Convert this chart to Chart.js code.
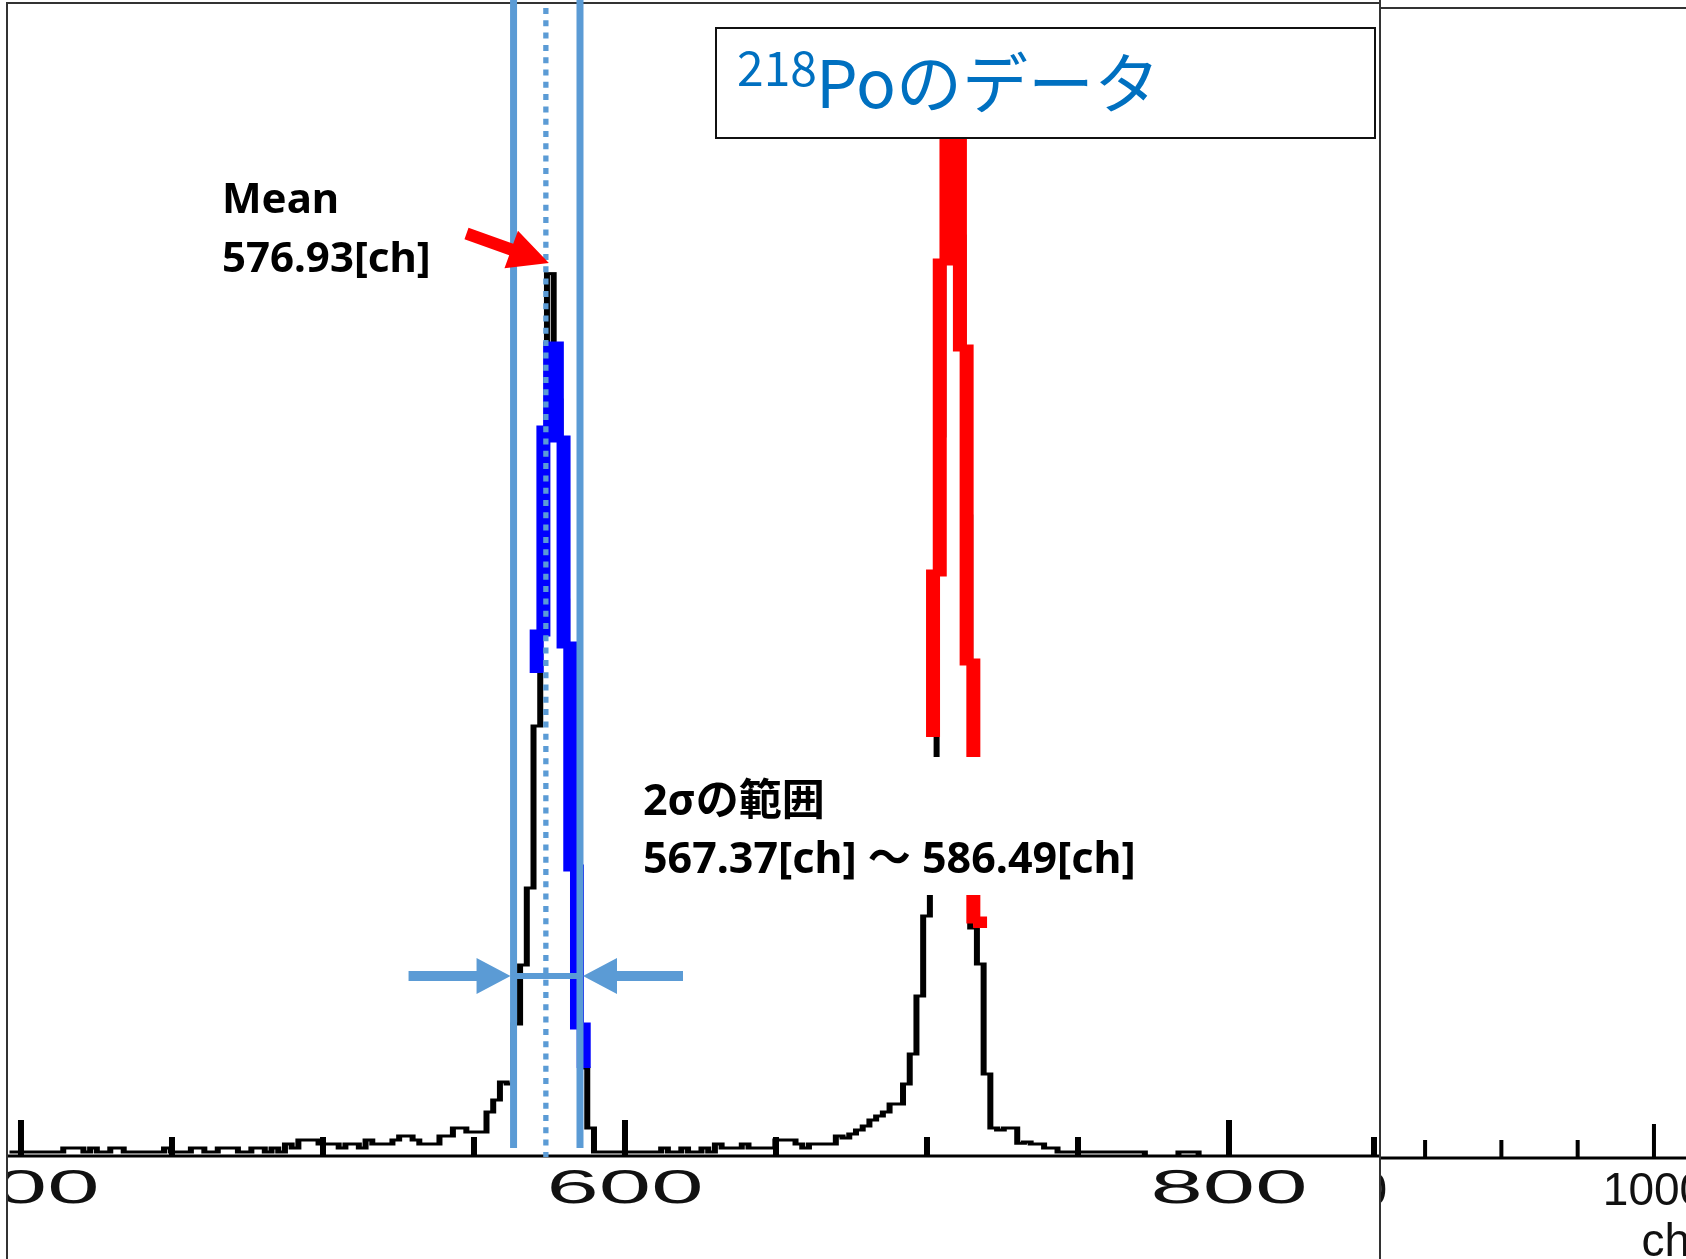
<!DOCTYPE html>
<html>
<head>
<meta charset="utf-8">
<script src="https://cdn.jsdelivr.net/npm/chart.js"></script>
<style>
  html, body { margin: 0; padding: 0; background: #fff; }
  #page { position: relative; width: 1686px; height: 1259px; overflow: hidden; background: #fff; }
  /* the ROOT picture was pasted stretched 2x horizontally, so the pad is drawn half width and scaled */
  #histWrap { position: absolute; left: 8px; top: 0; width: 686px; height: 1259px; transform: scaleX(2); transform-origin: 0 0; }
  #padWrap { position: absolute; left: 1381px; top: 0; width: 305px; height: 1259px; }
  #overlay { position: absolute; left: 0; top: 0; pointer-events: none; }
</style>
</head>
<body>
<div id="page">
  <div id="histWrap"><canvas id="hist" width="686" height="1259"></canvas></div>
  <div id="padWrap"><canvas id="pad2" width="305" height="1259"></canvas></div>
  <canvas id="overlay" width="1686" height="1259"></canvas>
</div>
<script>
// ---- axis range (channels) ----
const xMin = 395.7, xMax = 850;
const yMax = 288.25;

// ---- black histogram: all events ----
const binStart = 396.2;
const binWidth = 2.2245;
const counts = [
  1, 1, 1, 1, 1, 1, 1, 1, 2, 2,
  2, 1, 2, 1, 1, 2, 2, 1, 1, 1,
  1, 1, 1, 2, 1, 1, 1, 2, 2, 1,
  1, 2, 2, 2, 1, 1, 2, 2, 1, 2,
  1, 3, 2, 4, 4, 4, 3, 3, 3, 2,
  3, 3, 2, 4, 3, 3, 3, 4, 5, 5,
  4, 3, 3, 3, 5, 5, 7, 7, 6, 6,
  6, 11, 14, 18.5, 18, 33, 47.75, 67, 107.5, 150,
  220.6, 189, 139, 89, 49, 22, 7, 1, 1, 1,
  1, 1, 1, 1, 1, 1, 1, 2, 1, 1,
  2, 1, 1, 2, 1, 3, 2, 2, 2, 3,
  2, 2, 2, 2, 4, 4, 4, 3, 2, 3,
  3, 3, 3, 5, 4.5, 5.5, 6.5, 7.5, 9, 10,
  11, 13, 13, 18, 25.5, 40, 60, 85, 180, 270,
  265, 230, 160, 57, 48, 20.5, 7, 6.5, 7, 7,
  3.2, 3.5, 3, 3, 2, 2, 1, 1, 1, 1,
  1, 1, 1, 1, 1, 1, 1, 1, 1, 0,
  0, 0, 0, 0, 1, 1, 1, 0, 0, 0,
  0, 0, 0, 0, 0, 0, 0, 0, 0, 0,
  0, 0, 0, 0, 0, 0, 0, 0, 0, 0,
  0, 0, 0, 0
];

// ---- highlighted outlines (first / last value = neighbouring bins) ----
const blueStart = 570.76;
const blueCounts = [120.75, 130.75, 181.75, 202.75, 179.25, 127.75, 72, 32.5, 22];
const redStart = 702.0;
const redCounts = [104.75, 145.75, 223.5, 268, 262, 202, 123.5, 59, 57];

// ---- ticks ----
const majorTicks = [400, 600, 800];
const tickLabels = ['400', '600', '800'];
const mediumTicks = [450, 500, 550, 650, 700, 750, 850];

// ---- annotation values ----
const meanValue = 576.93;
const sigmaRange = [567.37, 586.49];
const meanLine = 573.8;            // where the dotted line sits in the picture
const sigmaLines = [563.1, 585.1]; // where the solid lines sit in the picture

// ---- right pad axis ----
const pad2Min = 821.1, pad2Max = 1021;
const pad2Major = [800, 1000];
const pad2Labels = ['800', '1000'];
const pad2Minor = [850, 900, 950];

const histPoints = counts.map((c, i) => ({ x: binStart + i * binWidth, y: c }));
histPoints.push({ x: binStart + counts.length * binWidth, y: counts[counts.length - 1] });

function outline(start, vals) {
  const pts = [{ x: start, y: vals[0] }];
  for (let j = 1; j < vals.length; j++) pts.push({ x: start + (j - 1) * binWidth, y: vals[j] });
  return pts;
}

// ROOT style axis: ticks pointing up into the frame
const axisPlugin = {
  id: 'rootAxis',
  afterDraw(chart) {
    const ctx = chart.ctx, xs = chart.scales.x, a = chart.chartArea;
    ctx.save();
    ctx.strokeStyle = '#000';
    ctx.lineWidth = 3;
    ctx.beginPath();
    ctx.moveTo(a.left, a.bottom);
    ctx.lineTo(a.right, a.bottom);
    const tick = (v, len) => {
      const x = Math.min(xs.getPixelForValue(v), a.right - 3);
      ctx.moveTo(x, a.bottom);
      ctx.lineTo(x, a.bottom - len);
    };
    majorTicks.forEach(v => tick(v, 36));
    mediumTicks.forEach(v => tick(v, 19));
    ctx.stroke();
    ctx.fillStyle = '#111';
    ctx.font = '47px "Liberation Sans", Arial, sans-serif';
    ctx.textAlign = 'center';
    ctx.textBaseline = 'alphabetic';
    majorTicks.forEach((v, i) => ctx.fillText(tickLabels[i], xs.getPixelForValue(v), 1203));
    ctx.restore();
  }
};

function arrow(ctx, x0, y0, x1, y1, shaft, headLen, headW) {
  const L = Math.hypot(x1 - x0, y1 - y0);
  const ux = (x1 - x0) / L, uy = (y1 - y0) / L, nx = -uy, ny = ux;
  const bx = x1 - ux * headLen, by = y1 - uy * headLen;
  ctx.beginPath();
  ctx.moveTo(x0 + nx * shaft / 2, y0 + ny * shaft / 2);
  ctx.lineTo(bx + nx * shaft / 2, by + ny * shaft / 2);
  ctx.lineTo(bx + nx * headW / 2, by + ny * headW / 2);
  ctx.lineTo(x1, y1);
  ctx.lineTo(bx - nx * headW / 2, by - ny * headW / 2);
  ctx.lineTo(bx - nx * shaft / 2, by - ny * shaft / 2);
  ctx.lineTo(x0 - nx * shaft / 2, y0 - ny * shaft / 2);
  ctx.closePath();
  ctx.fill();
}

// slide annotations drawn on top, positions taken from the histogram scale
const overlayPlugin = {
  id: 'slideOverlay',
  afterDraw(chart) {
    const cv = document.getElementById('overlay');
    const ctx = cv.getContext('2d');
    ctx.clearRect(0, 0, cv.width, cv.height);
    const xs = chart.scales.x;
    const toPage = v => 8 + 2 * xs.getPixelForValue(v);
    const seg = (x0, y0, x1, y1) => { ctx.beginPath(); ctx.moveTo(x0, y0); ctx.lineTo(x1, y1); ctx.stroke(); };

    // picture borders
    ctx.strokeStyle = '#333';
    ctx.lineWidth = 2;
    seg(7, 3, 7, 1259);
    seg(6, 3, 1380, 3);
    seg(1380, 0, 1380, 1259);
    seg(1380, 8, 1686, 8);

    // 2 sigma lines and mean
    const xl = toPage(sigmaLines[0]), xr = toPage(sigmaLines[1]), xm = toPage(meanLine);
    ctx.strokeStyle = '#5b9bd5';
    ctx.lineWidth = 7;
    seg(xl, 0, xl, 1148);
    seg(xr, 0, xr, 1148);
    ctx.lineWidth = 5.3;
    ctx.setLineDash([6, 6.3]);
    seg(xm, 8, xm, 1157);
    ctx.setLineDash([]);

    // width arrows
    ctx.fillStyle = '#5b9bd5';
    arrow(ctx, xl - 105, 976, xl - 3, 976, 10, 34, 36);
    arrow(ctx, xr + 103, 976, xr + 3, 976, 10, 34, 36);
    ctx.lineWidth = 6;
    seg(xl, 976, xr, 976);

    // red arrow to the peak
    ctx.fillStyle = '#ff0000';
    arrow(ctx, 466.5, 233.5, xm + 3, 263, 12, 40, 40);

    // Mean text
    ctx.fillStyle = '#000';
    ctx.font = 'bold 42px "Noto Sans", "Noto Sans CJK JP", sans-serif';
    ctx.textAlign = 'left';
    ctx.textBaseline = 'alphabetic';
    ctx.fillText('Mean', 222, 213);
    ctx.fillText(meanValue.toFixed(2) + '[ch]', 222, 272);

    // 2 sigma text box (white, hides the histogram behind it)
    ctx.fillStyle = '#fff';
    ctx.fillRect(630, 757, 510, 138);
    ctx.fillStyle = '#000';
    ctx.font = 'bold 43px "Noto Sans", "Noto Sans CJK JP", sans-serif';
    ctx.fillText('2σの範囲', 643, 815);
    ctx.fillText(sigmaRange[0].toFixed(2) + '[ch] ～ ' + sigmaRange[1].toFixed(2) + '[ch]', 643, 873);

    // title box
    ctx.fillStyle = '#fff';
    ctx.fillRect(716, 28, 659, 110);
    ctx.strokeStyle = '#111';
    ctx.lineWidth = 2;
    ctx.strokeRect(716, 28, 659, 110);
    ctx.fillStyle = '#0070c0';
    ctx.font = '48px "Noto Sans CJK JP", sans-serif';
    ctx.fillText('218', 737, 86);
    ctx.font = '66px "Noto Sans CJK JP", sans-serif';
    ctx.fillText('Poのデータ', 816, 108);
  }
};

new Chart(document.getElementById('hist'), {
  type: 'line',
  data: {
    datasets: [
      {
        label: 'all',
        data: histPoints,
        borderColor: '#000',
        borderWidth: 3,
        stepped: 'before',
        pointRadius: 0,
        fill: false,
        order: 2,
      },
      {
        label: '2 sigma bins',
        data: outline(blueStart, blueCounts),
        borderColor: '#0000ff',
        borderWidth: 7,
        stepped: 'before',
        pointRadius: 0,
        fill: false,
        order: 1,
      },
      {
        label: '218Po peak',
        data: outline(redStart, redCounts),
        borderColor: '#ff0000',
        borderWidth: 7,
        stepped: 'before',
        pointRadius: 0,
        fill: false,
        order: 1,
      },
    ],
  },
  options: {
    responsive: false,
    animation: false,
    devicePixelRatio: 2,
    layout: { padding: { top: 3, bottom: 103, left: 0, right: 0 } },
    plugins: { legend: { display: false }, tooltip: { enabled: false } },
    scales: {
      x: { type: 'linear', min: xMin, max: xMax, display: false },
      y: { type: 'linear', min: 0, max: yMax, display: false },
    },
  },
  plugins: [axisPlugin, overlayPlugin],
});

// right-hand pad: only its axis shows in the picture
const pad2Axis = {
  id: 'pad2Axis',
  afterDraw(chart) {
    const ctx = chart.ctx, xs = chart.scales.x, a = chart.chartArea;
    ctx.save();
    ctx.strokeStyle = '#000';
    ctx.lineWidth = 3;
    ctx.beginPath();
    ctx.moveTo(a.left, a.bottom);
    ctx.lineTo(a.right, a.bottom);
    ctx.stroke();
    ctx.lineWidth = 4;
    ctx.beginPath();
    pad2Minor.forEach(v => { const x = xs.getPixelForValue(v); ctx.moveTo(x, a.bottom); ctx.lineTo(x, a.bottom - 18); });
    pad2Major.forEach(v => { const x = xs.getPixelForValue(v); ctx.moveTo(x, a.bottom); ctx.lineTo(x, a.bottom - 34); });
    ctx.stroke();
    ctx.fillStyle = '#111';
    ctx.font = '46px "Liberation Sans", Arial, sans-serif';
    ctx.textAlign = 'center';
    pad2Major.forEach((v, i) => ctx.fillText(pad2Labels[i], xs.getPixelForValue(v), 1205));
    ctx.textAlign = 'right';
    ctx.fillText('ch', a.right + 4, 1256);
    ctx.restore();
  }
};

new Chart(document.getElementById('pad2'), {
  type: 'line',
  data: { datasets: [] },
  options: {
    responsive: false,
    animation: false,
    devicePixelRatio: 1,
    layout: { padding: { top: 8, bottom: 101, left: 0, right: 0 } },
    plugins: { legend: { display: false }, tooltip: { enabled: false } },
    scales: {
      x: { type: 'linear', min: pad2Min, max: pad2Max, display: false },
      y: { type: 'linear', min: 0, max: 1, display: false },
    },
  },
  plugins: [pad2Axis],
});
</script>
</body>
</html>
